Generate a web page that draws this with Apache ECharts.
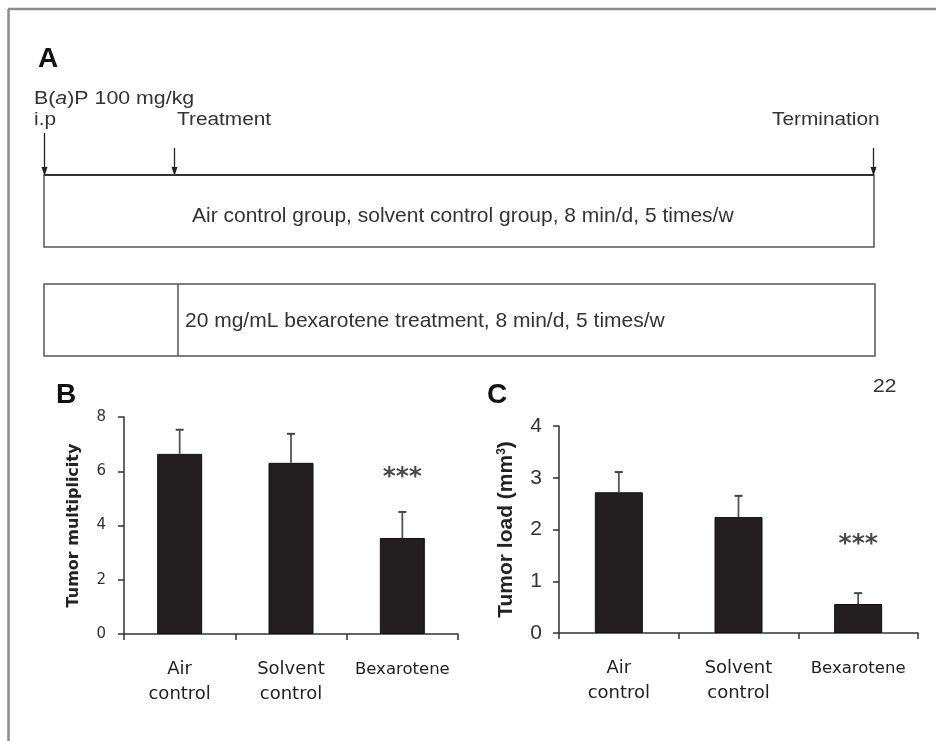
<!DOCTYPE html>
<html><head><meta charset="utf-8">
<script src="https://cdn.jsdelivr.net/npm/echarts@6/dist/echarts.min.js"></script>
<style>html,body{margin:0;padding:0;background:#fff}#c{width:936px;height:741px}</style>
</head><body><div id="c"></div>
<script>
// ---- data ----
const categories = ['Air\ncontrol', 'Solvent\ncontrol', 'Bexarotene'];
const multiplicityMean = [6.64, 6.31, 3.54];
const multiplicityUpper = [7.53, 7.38, 4.50];
const loadMean = [2.72, 2.24, 0.56];
const loadUpper = [3.11, 2.65, 0.77];
const multiplicityTicks = [0, 2, 4, 6, 8];
const loadTicks = [0, 1, 2, 3, 4];
const multiplicitySig = ['', '', '***'];
const loadSig = ['', '', '***'];

const chart = echarts.init(document.getElementById('c'), null, {renderer: 'canvas'});
const AX = '#333';
const SANS = 'Liberation Sans, Arial, sans-serif';
const DV = 'DejaVu Sans, Verdana, sans-serif';

function errSeries(xi, yi, upper, mean, capHalf) {
  return {
    type: 'custom', xAxisIndex: xi, yAxisIndex: yi, z: 3,
    data: mean.map((m, i) => [i, m, upper[i]]),
    renderItem: function (params, api) {
      const p0 = api.coord([api.value(0), api.value(1)]);
      const p1 = api.coord([api.value(0), api.value(2)]);
      return {type: 'group', children: [
        {type: 'line', shape: {x1: p0[0], y1: p0[1], x2: p1[0], y2: p1[1]}, style: {stroke: '#555', lineWidth: 1.8}},
        {type: 'line', shape: {x1: p1[0] - capHalf, y1: p1[1], x2: p1[0] + capHalf, y2: p1[1]}, style: {stroke: '#444', lineWidth: 2}}
      ]};
    }
  };
}
function sigSeries(xi, yi, upper, sig, dist) {
  return {
    type: 'scatter', xAxisIndex: xi, yAxisIndex: yi, symbolSize: 0, silent: true,
    data: upper.map((u, i) => ({value: [i, u], label: {show: sig[i] !== '', formatter: sig[i]}})),
    label: {position: 'top', distance: dist, color: '#1a1a1a', fontSize: 25, fontWeight: 'bold', fontFamily: DV}
  };
}
function catAxis(gi) {
  return {
    gridIndex: gi, type: 'category', data: categories,
    axisLine: {lineStyle: {color: AX, width: 1.5}},
    axisTick: {show: true, length: 6, lineStyle: {color: AX, width: 1.5}},
    axisLabel: {interval: 0, margin: 23, color: '#222', fontFamily: DV, fontSize: 18, lineHeight: 25,
      formatter: v => v === 'Bexarotene' ? '{s|' + v + '}' : v,
      rich: {s: {fontSize: 16.5, fontFamily: DV, color: '#222', lineHeight: 25}}}
  };
}
function stretchedText(x, y, text, size, sx) {
  return {type: 'text', x: x, y: y, scaleX: sx,
    style: {text: text, font: size + 'px ' + SANS, fill: '#333', textAlign: 'left', textVerticalAlign: 'top'}};
}

const grey = '#555';
const graphics = [
  // frame
  {type: 'line', shape: {x1: 8, y1: 9, x2: 936, y2: 9}, style: {stroke: '#8a8a8a', lineWidth: 2.5}},
  {type: 'line', shape: {x1: 8.5, y1: 9, x2: 8.5, y2: 741}, style: {stroke: '#8a8a8a', lineWidth: 2.5}},
  // panel letters
  {type: 'text', x: 38, y: 45, style: {text: 'A', font: 'bold 28px ' + SANS, fill: '#111', textVerticalAlign: 'top'}},
  {type: 'text', x: 56, y: 381, style: {text: 'B', font: 'bold 28px ' + SANS, fill: '#111', textVerticalAlign: 'top'}},
  {type: 'text', x: 487, y: 381, style: {text: 'C', font: 'bold 28px ' + SANS, fill: '#111', textVerticalAlign: 'top'}},
  stretchedText(873, 378, '22', 17.5, 1.2),
  // panel A labels
  {type: 'text', x: 34, y: 90, scaleX: 1.22, style: {rich: {n: {fontSize: 17.5, fontFamily: SANS, fill: '#333'}, i: {fontSize: 17.5, fontFamily: SANS, fontStyle: 'italic', fill: '#333'}}, text: '{n|B(}{i|a}{n|)P 100 mg/kg}', textVerticalAlign: 'top'}},
  stretchedText(34, 111, 'i.p', 17.5, 1.19),
  stretchedText(177, 111, 'Treatment', 17.5, 1.19),
  stretchedText(772, 111, 'Termination', 17.5, 1.19),
  // arrows
  {type: 'line', shape: {x1: 44.5, y1: 133, x2: 44.5, y2: 170}, style: {stroke: '#222', lineWidth: 1.3}},
  {type: 'polygon', shape: {points: [[41.5, 167], [47.5, 167], [44.5, 176]]}, style: {fill: '#222'}},
  {type: 'line', shape: {x1: 174.5, y1: 148, x2: 174.5, y2: 170}, style: {stroke: '#222', lineWidth: 1.3}},
  {type: 'polygon', shape: {points: [[171.5, 167], [177.5, 167], [174.5, 176]]}, style: {fill: '#222'}},
  {type: 'line', shape: {x1: 873.5, y1: 148, x2: 873.5, y2: 170}, style: {stroke: '#222', lineWidth: 1.3}},
  {type: 'polygon', shape: {points: [[870.5, 167], [876.5, 167], [873.5, 176]]}, style: {fill: '#222'}},
  // boxes
  {type: 'rect', shape: {x: 44, y: 175, width: 830, height: 72}, style: {fill: 'none', stroke: grey, lineWidth: 1.5}},
  {type: 'line', shape: {x1: 44, y1: 175, x2: 874, y2: 175}, style: {stroke: '#333', lineWidth: 1.8}},
  {type: 'text', x: 192, y: 206, style: {text: 'Air control group, solvent control group, 8 min/d, 5 times/w', font: '21px ' + SANS, fill: '#333', textVerticalAlign: 'top'}},
  {type: 'rect', shape: {x: 44, y: 284, width: 831, height: 72}, style: {fill: 'none', stroke: grey, lineWidth: 1.5}},
  {type: 'line', shape: {x1: 178, y1: 284, x2: 178, y2: 356}, style: {stroke: grey, lineWidth: 1.5}},
  {type: 'text', x: 185, y: 311, style: {text: '20 mg/mL bexarotene treatment, 8 min/d, 5 times/w', font: '21px ' + SANS, fill: '#333', textVerticalAlign: 'top'}}
];

const option = {
  backgroundColor: '#fff',
  animation: false,
  graphic: graphics,
  grid: [
    {left: 124, right: 478, top: 417, bottom: 107},
    {left: 559, right: 18, top: 426, bottom: 108}
  ],
  xAxis: [catAxis(0), catAxis(1)],
  yAxis: [
    {gridIndex: 0, type: 'value', min: multiplicityTicks[0], max: multiplicityTicks[multiplicityTicks.length - 1], interval: multiplicityTicks[1] - multiplicityTicks[0],
      axisLine: {show: true, lineStyle: {color: AX, width: 1.5}}, axisTick: {show: true, length: 6, lineStyle: {color: AX, width: 1.5}},
      splitLine: {show: false}, axisLabel: {margin: 18, color: '#333', fontFamily: DV, fontSize: 15},
      name: 'Tumor multiplicity', nameLocation: 'middle', nameGap: 42,
      nameTextStyle: {fontFamily: DV, fontWeight: 'bold', fontSize: 16, color: '#222'}},
    {gridIndex: 1, type: 'value', min: loadTicks[0], max: loadTicks[loadTicks.length - 1], interval: loadTicks[1] - loadTicks[0],
      axisLine: {show: true, lineStyle: {color: AX, width: 1.5}}, axisTick: {show: true, length: 6, lineStyle: {color: AX, width: 1.5}},
      splitLine: {show: false}, axisLabel: {margin: 17, color: '#333', fontFamily: SANS, fontSize: 21},
      name: '{b|Tumor load (mm}{sup|3}{b|)}', nameLocation: 'middle', nameGap: 42,
      nameTextStyle: {rich: {
        b: {fontFamily: SANS, fontWeight: 'bold', fontSize: 21, color: '#222'},
        sup: {fontFamily: SANS, fontWeight: 'bold', fontSize: 12, color: '#222', verticalAlign: 'top', padding: [0, 0, 8, 0]}
      }}}
  ],
  series: [
    {type: 'bar', xAxisIndex: 0, yAxisIndex: 0, data: multiplicityMean, barWidth: 45, itemStyle: {color: '#231f20', borderColor: '#111', borderWidth: 1}, z: 2},
    errSeries(0, 0, multiplicityUpper, multiplicityMean, 4),
    sigSeries(0, 0, multiplicityUpper, multiplicitySig, 22),
    {type: 'bar', xAxisIndex: 1, yAxisIndex: 1, data: loadMean, barWidth: 48, itemStyle: {color: '#231f20', borderColor: '#111', borderWidth: 1}, z: 2},
    errSeries(1, 1, loadUpper, loadMean, 4),
    sigSeries(1, 1, loadUpper, loadSig, 36)
  ]
};
chart.setOption(option);
</script>
</body></html>
